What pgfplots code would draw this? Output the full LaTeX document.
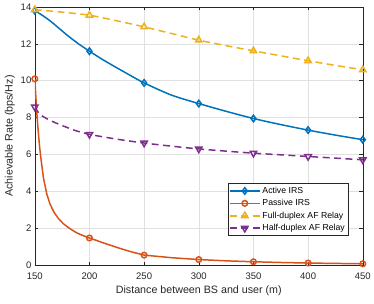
\documentclass[border=0pt]{standalone}
\usepackage{fontspec}
\setmainfont{Liberation Sans}
\usepackage{pgfplots}
\pgfplotsset{compat=1.18}
\definecolor{cA}{rgb}{0,0.447,0.741}
\definecolor{cP}{rgb}{0.85,0.325,0.098}
\definecolor{cF}{rgb}{0.929,0.694,0.125}
\definecolor{cH}{rgb}{0.494,0.184,0.556}
\definecolor{axg}{rgb}{0.15,0.15,0.15}
\begin{document}
\begin{tikzpicture}
\begin{axis}[
  scale only axis, width=330bp, height=259.7bp,
  xmin=150, xmax=450, ymin=0, ymax=14,
  xtick={150,200,250,300,350,400,450},
  ytick={0,2,4,6,8,10,12,14},
  grid=major, grid style={line width=0.5bp, draw=black!12},
  axis line style={draw=axg, line width=0.5bp},
  tick style={draw=axg, line width=0.5bp},
  major tick length=3.3bp,
  tick align=inside,
  tick label style={font=\fontsize{9.6}{11}\selectfont, text=axg},
  xticklabel style={yshift=-4bp},
  /pgf/number format/assume math mode=true,
  xlabel={Distance between BS and user (m)},
  ylabel={Achievable Rate (bps/Hz)},
  label style={font=\fontsize{10.8}{12}\selectfont, text=axg},
  xlabel style={at={(axis description cs:0.5,-0.1001)}, anchor=center},
  ylabel style={at={(axis description cs:-0.0758,0.5)}, anchor=center},
  legend cell align=left,
  legend style={at={(0.955,0.114)}, anchor=south east,
    font=\fontsize{8.8}{10}\selectfont, draw=axg, line width=0.5bp,
    inner xsep=1bp, inner ysep=1bp, row sep=0bp,
    nodes={text height=6.5bp, text depth=2bp, inner ysep=2bp}},
  legend image code/.code={%
    \draw[#1, mark indices={2}] plot coordinates {(0bp,0bp) (15bp,0bp) (30bp,0bp)};},
  every axis plot/.append style={line width=1.5bp, mark options={solid}},
]
% Active IRS
\addplot[color=cA, mark=diamond, mark size=3.3bp, smooth, mark indices={1,9,13,15,17,19,21}]
coordinates {(150,13.8) (155,13.62) (160,13.42) (165,13.2) (170,12.95) (175,12.7)
(180,12.45) (190,12.0) (200,11.6) (212,11.15) (225,10.7) (237,10.3) (250,9.88)
(275,9.22) (300,8.76) (325,8.34) (350,7.95) (375,7.62) (400,7.32) (425,7.05) (450,6.8)};
\addlegendentry{Active IRS}
% Passive IRS
\addplot[color=cP, mark=o, mark size=2.8bp, mark indices={1,16,20,22,24,26,28}]
coordinates {(150,10.1) (151,9.1) (152,8.15) (153,7.35) (154.5,6.35) (156,5.6) (158,4.7)
(161,3.85) (164,3.3) (168,2.82) (172,2.5) (176,2.25) (182,1.98) (188,1.76) (194,1.6)
(200,1.47) (212,1.22) (225,0.96) (237,0.74) (250,0.54) (275,0.4) (300,0.3) (325,0.23)
(350,0.18) (375,0.14) (400,0.11) (425,0.09) (450,0.07)};
\addlegendentry{Passive IRS}
% Full-duplex AF relay
\addplot[color=cF, mark=triangle, mark size=3.7bp, smooth, dash pattern=on 7bp off 4.5bp, mark indices={1,3,5,7,9,11,13}]
coordinates {(150,13.85) (175,13.72) (200,13.55) (225,13.25) (250,12.92) (275,12.56)
(300,12.2) (325,11.9) (350,11.62) (375,11.35) (400,11.08) (425,10.83) (450,10.59)};
\addlegendentry{Full-duplex AF Relay}
% Half-duplex AF relay
\addplot[color=cH, mark=triangle, mark options={solid, rotate=180}, mark size=3.7bp, smooth, dash pattern=on 7bp off 4.5bp, mark indices={1,7,9,11,13,15,17}]
coordinates {(150,8.58) (153,8.3) (157,8.08) (165,7.82) (175,7.57) (187,7.3) (200,7.09)
(225,6.83) (250,6.62) (275,6.45) (300,6.3) (325,6.18) (350,6.07) (375,5.98) (400,5.89)
(425,5.8) (450,5.71)};
\addlegendentry{Half-duplex AF Relay}
\end{axis}
\path (current axis.south west) ++(-35bp,-38.3bp) coordinate (bbA);
\path (current axis.north east) ++(9bp,7bp) coordinate (bbB);
\path (bbA) rectangle (bbB);
\end{tikzpicture}
\end{document}
